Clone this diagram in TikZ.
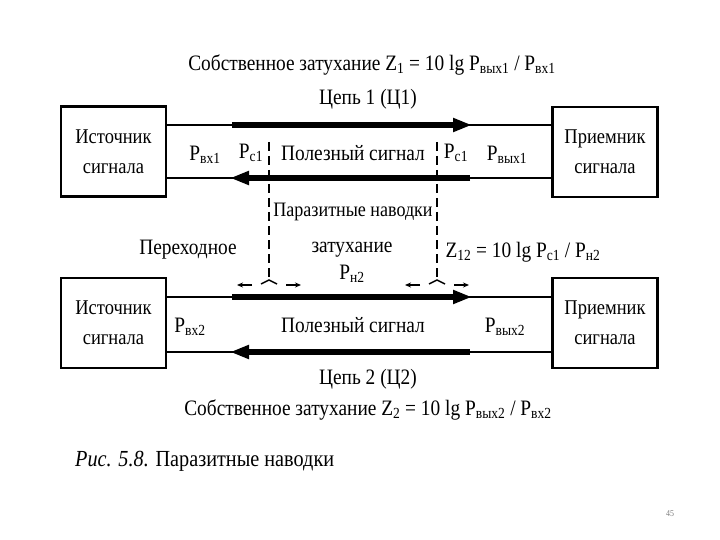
\documentclass[tikz,border=0pt]{standalone}
\usepackage{fontspec}
\setmainfont{Liberation Serif}[FakeStretch=0.88]
\usetikzlibrary{arrows.meta}
\begin{document}
\begin{tikzpicture}[x=1pt,y=-1pt,
  box/.style={draw,line width=2.2pt,minimum width=105pt,minimum height=90pt,align=center,font=\fontsize{21}{30}\selectfont,inner sep=0pt},
  lbl/.style={font=\fontsize{22}{26}\selectfont,inner sep=0pt},
  thinline/.style={line width=2.4pt},
  thickline/.style={line width=5.5pt},
  bigtip/.style={-{Triangle[length=19pt,width=13pt]}},
  dashline/.style={line width=1.6pt,dash pattern=on 9pt off 5pt},
  smalltip/.style={line width=1.4pt,-{Stealth[length=6pt,width=5pt]}}]
\useasboundingbox[fill=white] (0,0) rectangle (720,540);

% boxes
\node[box] (s1) at (113.5,151.5) {Источник\\сигнала};
\node[box] (r1) at (605,152) {Приемник\\сигнала};
\node[box] (s2) at (113.5,323) {Источник\\сигнала};
\node[box] (r2) at (605,323) {Приемник\\сигнала};

% thin lines between boxes
\draw[thinline] (s1.east |- 0,125) -- (r1.west |- 0,125);
\draw[thinline] (s1.east |- 0,178) -- (r1.west |- 0,178);
\draw[thinline] (s2.east |- 0,297) -- (r2.west |- 0,297);
\draw[thinline] (s2.east |- 0,352) -- (r2.west |- 0,352);

% thick signal arrows
\coordinate (a1s) at (232,125); \coordinate (a1e) at (472,125);
\coordinate (b1s) at (470,178); \coordinate (b1e) at (230,178);
\coordinate (a2s) at (232,297); \coordinate (a2e) at (472,297);
\coordinate (b2s) at (470,352); \coordinate (b2e) at (230,352);
\draw[thickline,bigtip] (a1s) -- (a1e);
\draw[thickline,bigtip] (b1s) -- (b1e);
\draw[thickline,bigtip] (a2s) -- (a2e);
\draw[thickline,bigtip] (b2s) -- (b2e);

% dashed coupling lines
\coordinate (dl) at (269,142); \coordinate (dlb) at (269,280);
\coordinate (dr) at (437,142); \coordinate (drb) at (437,280);
\draw[dashline] (dl) -- (dlb);
\draw[dashline] (dr) -- (drb);
\foreach \p in {dlb,drb}{
  \draw[line width=1.4pt] ([xshift=-8pt,yshift=-4pt]\p) -- (\p) -- ([xshift=8pt,yshift=-4pt]\p);
  \draw[smalltip] ([xshift=-17pt,yshift=-5pt]\p) -- ([xshift=-32pt,yshift=-5pt]\p);
  \draw[smalltip] ([xshift=17pt,yshift=-5pt]\p) -- ([xshift=32pt,yshift=-5pt]\p);
}

% texts
\node[lbl] (t1) at (372,65) {Собственное затухание Z\textsubscript{1} = 10 lg P\textsubscript{вых1} / P\textsubscript{вх1}};
\node[lbl] (c1) at (368,99) {Цепь 1 (Ц1)};
\node[lbl] (pin1) at (205,155) {P\textsubscript{вх1}};
\node[lbl] (pc1a) at (251,153) {P\textsubscript{c1}};
\node[lbl] (use1) at (353,153) {Полезный сигнал};
\node[lbl] (pc1b) at (456,153) {P\textsubscript{c1}};
\node[lbl] (pout1) at (507,155) {P\textsubscript{вых1}};
\node[lbl,font=\fontsize{20.5}{24}\selectfont] (par) at (353,212) {Паразитные наводки};
\node[lbl] (per) at (188,250) {Переходное};
\node[lbl] (zat) at (352,250) {затухание};
\node[lbl] (z12) at (523,252) {Z\textsubscript{12} = 10 lg P\textsubscript{c1} / P\textsubscript{н2}};
\node[lbl] (pn2) at (352,274) {P\textsubscript{н2}};
\node[lbl] (pin2) at (190,327) {P\textsubscript{вх2}};
\node[lbl] (use2) at (353,325) {Полезный сигнал};
\node[lbl] (pout2) at (505,327) {P\textsubscript{вых2}};
\node[lbl] (c2) at (368,379) {Цепь 2 (Ц2)};
\node[lbl] (t2) at (368,410) {Собственное затухание Z\textsubscript{2} = 10 lg P\textsubscript{вых2} / P\textsubscript{вх2}};
\node[lbl,anchor=west,font=\fontsize{23}{27}\selectfont] (cap) at (75,461) {\textit{Рис. 5.8.} Паразитные наводки};
\node[font=\fontsize{9}{10}\selectfont,text=gray,inner sep=0pt] (pg) at (670,514) {45};
\end{tikzpicture}
\end{document}
